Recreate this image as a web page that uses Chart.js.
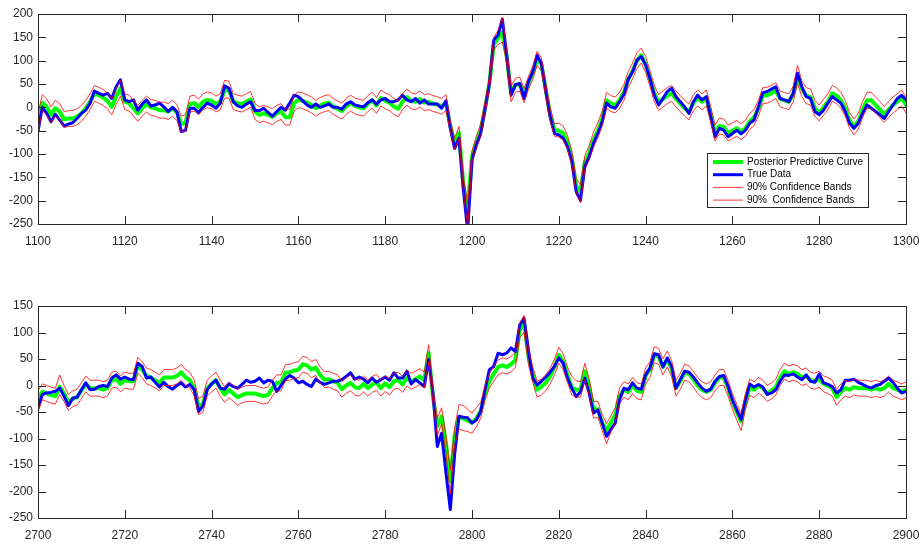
<!DOCTYPE html>
<html>
<head>
<meta charset="utf-8">
<script src="https://cdn.jsdelivr.net/npm/chart.js@4"></script>
<style>
  body { margin: 0; background: #fff; }
  canvas { position: absolute; left: 0; }
  #top { top: 0; }
  #bottom { top: 290px; }
</style>
</head>
<body>
<canvas id="top" width="920" height="250"></canvas>
<canvas id="bottom" width="920" height="254"></canvas>
<script>
// x positions: one sample per unit
const topX = Array.from({ length: 201 }, (_, i) => 1100 + i);
const bottomX = Array.from({ length: 201 }, (_, i) => 2700 + i);

const yTicksTop = [-250, 200];
const yTicksBottom = [-250, 150];

// top panel, 1100..1300
const topTrue = [
  -52, 0, -13, -31, -15, -27, -40, -36, -33, -24,
  -13, -6, 9, 35, 30, 26, 30, 19, 44, 59,
  16, 12, 16, -6, 7, 16, 3, 5, 9, 1,
  -9, 0, -9, -52, -49, -2, -2, -11, 0, 9,
  5, -2, 9, 46, 41, 12, 3, 0, 7, 12,
  -7, -7, -2, -11, -19, -9, 0, -6, 9, 26,
  23, 14, 5, 0, 7, 0, 3, 7, 0, 0,
  -4, 7, 12, 5, 3, 1, 10, 16, 7, 16,
  19, 12, 12, 16, 26, 16, 12, 19, 9, 16,
  7, 7, 7, -2, 14, -45, -88, -66, -175, -265,
  -113, -81, -56, -5, 51, 144, 155, 189, 110, 26,
  48, 51, 19, 55, 76, 112, 94, 34, -20, -56,
  -59, -66, -84, -116, -181, -199, -127, -106, -77, -56,
  -31, 9, 1, -2, 12, 28, 60, 76, 101, 109,
  91, 62, 26, 5, 19, 34, 41, 23, 12, 1,
  -13, 12, 26, 16, 23, -20, -63, -45, -49, -63,
  -56, -49, -57, -49, -34, -27, 1, 31, 34, 39,
  44, 19, 16, 12, 30, 73, 44, 23, 19, -9,
  -16, -6, 9, 23, 16, 9, -9, -34, -45, -34,
  -13, 5, -2, -9, -16, -24, -9, 5, 19, 26,
  16
];
const topPost = [
  -30, 10, 1, -16, -2, -9, -26, -24, -24, -20,
  -13, -2, 12, 30, 26, 21, 14, 1, 23, 41,
  12, 9, -2, -13, -2, 7, 0, -2, -6, -6,
  -9, -2, -11, -36, -33, 7, 9, 1, 12, 16,
  14, 7, 12, 37, 37, 12, 9, 7, 12, 17,
  -9, -16, -13, -16, -20, -13, -9, -21, -21, 9,
  16, 14, 10, 5, -2, 4, 8, 10, 2, -3,
  -8, 2, 9, 3, 0, -2, 8, 15, 4, 20,
  14, 10, 2, -3, 12, 22, 14, 12, 18, 10,
  12, 8, 6, 2, 10, -40, -78, -55, -165, -222,
  -105, -75, -50, -2, 50, 135, 148, 160, 110, 30,
  48, 50, 25, 52, 74, 104, 92, 38, -15, -48,
  -50, -55, -75, -108, -168, -181, -118, -98, -70, -50,
  -25, 15, 8, 5, 15, 32, 60, 78, 100, 112,
  92, 62, 30, 10, 18, 25, 30, 18, 8, -2,
  -10, 10, 20, 12, 20, -15, -55, -40, -42, -55,
  -50, -45, -52, -45, -30, -22, -2, 25, 26, 30,
  36, 18, 15, 12, 28, 68, 40, 25, 22, -2,
  -12, 0, 12, 30, 25, 15, -2, -28, -42, -30,
  -5, 15, 15, 5, -5, -15, -5, 5, 12, 20,
  5
];
const topUpper = [
  -13, 27, 18, 1, 15, 8, -9, -7, -7, -3,
  4, 15, 29, 47, 43, 38, 31, 18, 40, 58,
  29, 26, 15, 4, 15, 24, 17, 15, 11, 11,
  8, 15, 6, -19, -16, 24, 26, 18, 29, 33,
  31, 24, 29, 58, 56, 29, 26, 24, 29, 34,
  8, 1, 4, 1, -3, 4, 8, -4, -4, 26,
  33, 31, 27, 22, 15, 21, 25, 27, 19, 14,
  9, 19, 26, 20, 17, 15, 25, 32, 21, 37,
  31, 27, 19, 14, 29, 39, 31, 29, 35, 27,
  29, 25, 23, 19, 27, -28, -66, -41, -150, -206,
  -93, -62, -35, 12, 65, 150, 165, 192, 125, 45,
  62, 65, 40, 66, 88, 120, 106, 52, 0, -35,
  -34, -40, -60, -93, -152, -166, -103, -82, -53, -33,
  -8, 32, 25, 22, 32, 49, 77, 95, 117, 127,
  109, 79, 47, 27, 35, 42, 47, 35, 25, 15,
  7, 27, 37, 29, 37, 2, -38, -23, -25, -38,
  -33, -28, -35, -28, -13, -5, 15, 42, 43, 47,
  53, 35, 32, 29, 45, 90, 57, 42, 39, 15,
  5, 17, 29, 47, 42, 32, 15, -11, -25, -13,
  12, 32, 32, 22, 12, 2, 12, 22, 29, 37,
  22
];
const topLower = [
  -55, -7, -16, -33, -19, -26, -43, -41, -41, -37,
  -30, -19, -5, 13, 9, 4, -3, -16, 6, 24,
  -5, -8, -19, -30, -19, -10, -17, -19, -23, -23,
  -26, -19, -28, -53, -50, -10, -8, -16, -5, -1,
  -3, -10, -5, 20, 20, -5, -8, -10, -5, 0,
  -26, -33, -30, -33, -37, -30, -26, -38, -38, -8,
  -1, -3, -7, -12, -19, -13, -9, -7, -15, -20,
  -25, -15, -8, -14, -17, -19, -9, -2, -13, 3,
  -3, -7, -15, -20, -5, 5, -3, -5, 1, -7,
  -5, -9, -11, -15, -7, -52, -90, -67, -180, -258,
  -117, -87, -63, -14, 38, 122, 135, 140, 95, 12,
  32, 35, 10, 38, 60, 90, 78, 22, -30, -62,
  -64, -70, -90, -124, -184, -205, -133, -112, -85, -65,
  -40, -2, -9, -12, -2, 15, 43, 61, 83, 95,
  75, 45, 13, -7, 1, 8, 13, 1, -9, -19,
  -27, -7, 3, -5, 3, -32, -72, -57, -59, -72,
  -67, -62, -69, -62, -47, -39, -19, 8, 9, 13,
  19, 1, -2, -5, 11, 51, 23, 8, 5, -19,
  -29, -17, -5, 13, 8, -2, -19, -45, -59, -47,
  -22, -2, -2, -12, -22, -32, -22, -12, -5, 3,
  -12
];

// bottom panel, 2700..2900
const bottomTrue = [
  -42, -17, -14, -13, -11, -5, -20, -38, -24, -22,
  -8, 5, -8, -7, -2, 0, -2, 14, 20, 12,
  16, 12, 11, 42, 36, 14, 16, 6, -3, 6,
  -2, -7, 0, 5, -3, 2, -8, -49, -39, -8,
  3, 10, -5, -7, 3, -2, -5, 2, 10, 6,
  8, 14, 5, 10, 8, -11, 0, 12, 19, 14,
  5, 8, 2, -2, 12, 6, 2, 5, 8, 8,
  11, 17, 24, 12, 16, 12, 5, 14, 6, 11,
  16, 10, 24, 14, 14, 27, 3, 11, 5, -2,
  49, -14, -115, -90, -165, -234, -130, -58, -60, -61,
  -71, -65, -49, -8, 30, 36, 61, 58, 61, 71,
  64, 114, 127, 67, 14, 1, 8, 16, 25, 36,
  52, 42, 14, -5, -21, -12, 14, -15, -52, -46,
  -71, -96, -83, -71, -27, -5, -8, 5, -5, -7,
  20, 33, 60, 58, 35, 52, 36, -5, 11, 27,
  25, 16, 5, -5, -11, -7, 8, 17, 19, -2,
  -27, -46, -64, -27, 3, -3, 2, -3, -17, -14,
  -8, 8, 20, 19, 22, 16, 11, 20, 8, 6,
  22, 5, 2, -2, -14, -8, 10, 10, 12, 6,
  2, -2, -5, 0, 2, 8, 14, 6, -5, -14,
  -11
];
const bottomPost = [
  -25, -12, -15, -18, -20, -2, -15, -32, -25, -22,
  -10, 3, -5, -5, -5, -8, -5, 10, 12, 3,
  10, 8, 8, 38, 30, 18, 15, 10, 5, 15,
  15, 15, 18, 25, 15, 10, -5, -40, -35, -5,
  3, 10, -5, -17, -8, -15, -22, -18, -15, -15,
  -15, -18, -20, -18, -5, 5, 5, 24, 25, 28,
  30, 40, 38, 30, 34, 20, 11, 12, 8, 5,
  -7, 0, 5, -3, -5, 3, -5, 2, 6, -5,
  4, -3, 8, 10, 2, 14, 8, 12, 17, 10,
  61, -20, -77, -58, -110, -180, -95, -60, -62, -66,
  -70, -62, -48, -15, 8, 22, 35, 38, 35, 40,
  48, 105, 118, 55, 20, -8, -2, 5, 17, 35,
  58, 45, 20, -4, -8, -8, 27, -2, -45, -45,
  -70, -85, -70, -55, -20, -8, -12, 0, -10, -12,
  18, 30, 58, 55, 35, 50, 32, -5, 8, 25,
  22, 12, 0, -8, -12, -8, 5, 15, 15, -5,
  -30, -50, -68, -30, -3, -8, 0, -5, -15, -10,
  -3, 15, 27, 22, 25, 22, 15, 18, 10, 8,
  12, 3, 0, -5, -22, -12, -5, -8, -3, -5,
  -5, -5, -8, -5, -8, -5, 3, -5, -8, -12,
  -8
];
const bottomUpper = [
  -10, 3, 0, -3, -5, 20, 0, -17, -10, -7,
  5, 18, 10, 10, 10, 7, 10, 25, 27, 18,
  25, 23, 23, 53, 45, 33, 30, 25, 20, 30,
  30, 30, 33, 40, 30, 25, 10, -25, -20, 10,
  18, 25, 10, -2, 7, 0, -7, -3, 0, 0,
  0, -3, -5, -3, 10, 20, 20, 39, 40, 43,
  45, 55, 53, 45, 49, 35, 26, 27, 23, 20,
  8, 15, 20, 12, 10, 18, 10, 17, 21, 10,
  19, 12, 23, 25, 17, 29, 23, 27, 32, 25,
  77, -5, -62, -42, -95, -160, -80, -36, -38, -45,
  -52, -42, -32, 0, 22, 36, 48, 52, 50, 55,
  62, 118, 132, 70, 35, 8, 12, 20, 32, 50,
  72, 60, 35, 17, 9, 7, 42, 13, -30, -30,
  -55, -72, -57, -42, -5, 7, 3, 15, 5, 3,
  33, 45, 73, 70, 50, 65, 47, 10, 23, 40,
  37, 27, 15, 7, 3, 7, 20, 30, 30, 10,
  -15, -35, -53, -15, 12, 7, 15, 10, 0, 5,
  12, 30, 42, 37, 40, 37, 30, 33, 25, 23,
  27, 18, 15, 10, -7, 3, 10, 7, 12, 10,
  10, 10, 7, 10, 7, 10, 18, 10, 7, 3,
  7
];
const bottomLower = [
  -50, -27, -30, -33, -35, -17, -30, -47, -40, -37,
  -25, -12, -20, -20, -20, -23, -20, -5, -3, -12,
  -5, -7, -7, 23, 15, 3, 0, -5, -10, 0,
  0, 0, 3, 10, 0, -5, -20, -55, -50, -20,
  -12, -5, -20, -32, -23, -30, -37, -33, -30, -30,
  -30, -33, -35, -33, -20, -10, -10, 9, 10, 13,
  15, 25, 23, 15, 19, 5, -4, -3, -7, -10,
  -22, -15, -10, -18, -20, -12, -20, -13, -9, -20,
  -11, -18, -7, -5, -13, -1, -7, -3, 2, -5,
  45, -32, -95, -72, -128, -205, -112, -82, -85, -87,
  -90, -78, -62, -28, -5, 8, 20, 24, 22, 26,
  34, 90, 100, 40, 6, -22, -18, -10, 3, 20,
  42, 30, 6, -18, -22, -22, 12, -18, -62, -60,
  -85, -110, -88, -70, -35, -22, -27, -15, -25, -27,
  3, 15, 43, 40, 20, 35, 17, -20, -7, 10,
  7, -3, -15, -23, -27, -23, -10, 0, 0, -20,
  -45, -65, -85, -45, -18, -23, -15, -20, -30, -25,
  -18, 0, 12, 7, 10, 7, 0, 3, -5, -7,
  -3, -12, -15, -20, -37, -27, -20, -23, -18, -20,
  -20, -20, -23, -20, -23, -20, -12, -20, -23, -27,
  -23
];

const axisColor = "#262626";
const tickFont = { family: "Liberation Sans", size: 12 };

// matlab style box with inward ticks on all four sides
const boxPlugin = {
  id: "boxPlugin",
  afterDraw(chart) {
    const { ctx, chartArea: a, scales } = chart;
    const len = 8;
    ctx.save();
    ctx.strokeStyle = axisColor;
    ctx.lineWidth = 1;
    ctx.beginPath();
    scales.x.ticks.forEach((t) => {
      const px = Math.round(scales.x.getPixelForValue(t.value)) + 0.5;
      ctx.moveTo(px, a.bottom);
      ctx.lineTo(px, a.bottom - len);
      ctx.moveTo(px, a.top);
      ctx.lineTo(px, a.top + len);
    });
    scales.y.ticks.forEach((t) => {
      const py = Math.round(scales.y.getPixelForValue(t.value)) + 0.5;
      ctx.moveTo(a.left, py);
      ctx.lineTo(a.left + len, py);
      ctx.moveTo(a.right, py);
      ctx.lineTo(a.right - len, py);
    });
    ctx.stroke();
    ctx.strokeRect(Math.round(a.left) + 0.5, Math.round(a.top) + 0.5, Math.round(a.width), Math.round(a.height));
    ctx.restore();
  },
};

// legend box inside the top axes (lower right)
const legendPlugin = {
  id: "legendPlugin",
  afterDraw(chart) {
    const { ctx, chartArea: a } = chart;
    const w = 161, h = 54;
    const left = Math.round(a.right - 38 - w);
    const top = Math.round(a.bottom - 17 - h);
    ctx.save();
    ctx.fillStyle = "#fff";
    ctx.fillRect(left, top, w, h);
    ctx.strokeStyle = axisColor;
    ctx.lineWidth = 1;
    ctx.strokeRect(left + 0.5, top + 0.5, w, h);
    ctx.font = '10px "Liberation Sans"';
    ctx.textBaseline = "middle";
    chart.data.datasets.forEach((ds, i) => {
      const yy = top + 9 + i * 12.7;
      ctx.strokeStyle = ds.borderColor;
      ctx.lineWidth = ds.borderWidth;
      ctx.beginPath();
      ctx.moveTo(left + 6, yy);
      ctx.lineTo(left + 36, yy);
      ctx.stroke();
      ctx.fillStyle = "#000";
      ctx.fillText(ds.label, left + 40, yy);
    });
    ctx.restore();
  },
};

function makeChart(id, xs, post, truth, upper, lower, yRange, padTop, withLegend) {
  return new Chart(document.getElementById(id), {
    type: "line",
    data: {
      labels: xs,
      datasets: [
        { label: "Posterior Predictive Curve", data: post, borderColor: "#00ff00", borderWidth: 4, order: 4 },
        { label: "True Data", data: truth, borderColor: "#0000ff", borderWidth: 3, order: 3 },
        { label: "90% Confidence Bands", data: upper, borderColor: "#ff0000", borderWidth: 0.8, order: 2 },
        { label: "90%  Confidence Bands", data: lower, borderColor: "#ff0000", borderWidth: 0.8, order: 1 },
      ],
    },
    options: {
      responsive: false,
      animation: false,
      events: [],
      layout: { padding: { top: padTop, right: 14, left: 0, bottom: 0 } },
      elements: {
        point: { radius: 0 },
        line: { tension: 0, borderJoinStyle: "round", borderCapStyle: "round" },
      },
      datasets: { line: { clip: 0 } },
      scales: {
        x: {
          type: "linear",
          min: xs[0],
          max: xs[xs.length - 1],
          grid: { display: false, drawTicks: false },
          border: { display: false },
          ticks: {
            stepSize: 20,
            color: axisColor,
            font: tickFont,
            padding: 10,
            maxRotation: 0,
            callback: (v) => String(v),
          },
          afterFit: (s) => {
            s.height = 26;
            s.paddingLeft = 0;
            s.paddingRight = 0;
          },
        },
        y: {
          min: yRange[0],
          max: yRange[1],
          grid: { display: false, drawTicks: false },
          border: { display: false },
          ticks: {
            stepSize: 50,
            color: axisColor,
            font: tickFont,
            padding: 5,
            callback: (v) => String(v),
          },
          afterFit: (s) => { s.width = 38; },
        },
      },
      plugins: {
        legend: { display: false },
        tooltip: { enabled: false },
      },
    },
    plugins: withLegend ? [boxPlugin, legendPlugin] : [boxPlugin],
  });
}

makeChart("top", topX, topPost, topTrue, topUpper, topLower, yTicksTop, 14, true);
makeChart("bottom", bottomX, bottomPost, bottomTrue, bottomUpper, bottomLower, yTicksBottom, 16, false);
</script>
</body>
</html>
